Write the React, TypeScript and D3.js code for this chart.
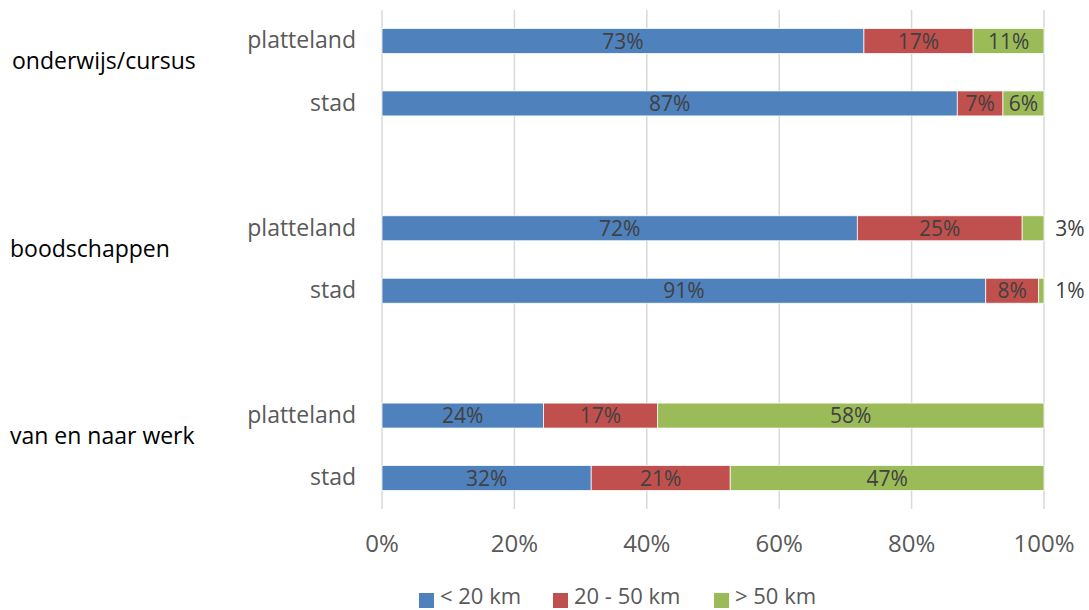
import React from 'react';
import * as d3 from 'd3';

const groups = ['onderwijs/cursus', 'boodschappen', 'van en naar werk'];
const rowLabels = ['platteland', 'stad'];
const seriesNames = ['< 20 km', '20 - 50 km', '> 50 km'];
const seriesColors = ['#4f81bd', '#c0504d', '#9bbb59'];

// per row: [< 20 km, 20 - 50 km, > 50 km] in %
const lt20 = [72.8, 86.9, 71.8, 91.2, 24.4, 31.6];
const mid = [16.5, 6.9, 24.9, 8.0, 17.2, 21.0];
const gt50 = [10.7, 6.2, 3.3, 0.8, 58.4, 47.4];
const ticks = [0, 20, 40, 60, 80, 100];

const W = 1089;
const H = 610;
const FONT = '"Open Sans", sans-serif';

export default function App() {
  const rows = groups.flatMap((g, gi) =>
    rowLabels.map((r, ri) => {
      const i = gi * 2 + ri;
      return { key: `${gi}-${ri}`, group: g, label: r, vals: [lt20[i], mid[i], gt50[i]] };
    })
  );
  // slots with spacer between groups
  const slots = ['0-0', '0-1', 'gap0', '1-0', '1-1', 'gap1', '2-0', '2-1'];

  const x = d3.scaleLinear().domain([0, 100]).range([382, 1044]);
  const y = d3.scaleBand<string>().domain(slots).range([9.8, 509.2]).paddingInner(0.6).paddingOuter(0.3);

  const stack = d3.stack<any>().keys(['0', '1', '2']).value((d, k) => d.vals[+k]);
  const stacked = stack(rows);
  const legendX = [419, 553, 714];

  return (
    <svg width={W} height={H} style={{ position: 'absolute', left: 0, top: 0, background: '#fff' }} fontFamily={FONT}>
      {ticks.map(t => (
        <g key={t}>
          <line x1={x(t)} x2={x(t)} y1={10} y2={509} stroke="#d9d9d9" strokeWidth={1.5} />
          <text x={x(t)} y={552} textAnchor="middle" fontSize={24} fill="#595959">{t}%</text>
        </g>
      ))}
      {stacked.map((s, si) => (
        <g key={si}>
          {s.map((d, ri) => {
            const row = rows[ri];
            const y0 = y(row.key)!;
            const bw = y.bandwidth();
            const x0 = x(d[0]);
            const x1 = x(d[1]);
            const v = row.vals[si];
            const outside = x1 - x0 < 30;
            return (
              <g key={row.key}>
                <rect x={x0} y={y0} width={Math.max(0, x1 - x0)} height={bw} fill={seriesColors[si]} stroke="#fff" strokeWidth={0.75} />
                <text
                  x={outside ? x(100) + 26 : (x0 + x1) / 2}
                  y={y0 + bw / 2}
                  dy="0.36em"
                  textAnchor="middle"
                  fontSize={21}
                  fill="#404040"
                >{Math.round(v)}%</text>
              </g>
            );
          })}
        </g>
      ))}
      {rows.map(r => (
        <text key={r.key} x={356} y={y(r.key)! + y.bandwidth() / 2} dy="0.32em" textAnchor="end" fontSize={23} fill="#595959">{r.label}</text>
      ))}
      {groups.map((g, gi) => {
        const c = (y(`${gi}-0`)! + y(`${gi}-1`)! + y.bandwidth()) / 2 - 3;
        return (
          <text key={g} x={gi === 0 ? 12 : 10} y={c} fontSize={23} fill="#000">{g}</text>
        );
      })}
      {seriesNames.map((n, i) => (
        <g key={n}>
          <rect x={legendX[i]} y={593} width={15} height={15} fill={seriesColors[i]} />
          <text x={legendX[i] + 21} y={604} fontSize={22} fill="#595959">{n}</text>
        </g>
      ))}
    </svg>
  );
}
